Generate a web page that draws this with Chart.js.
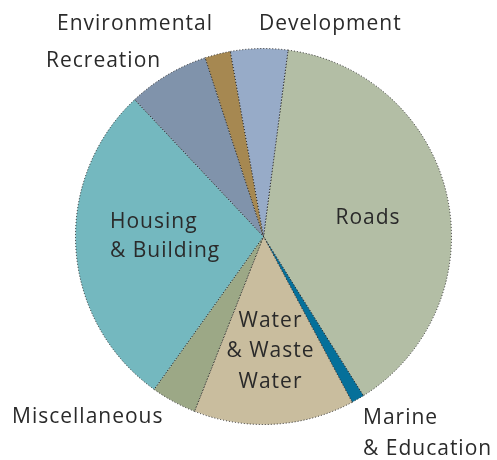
<!DOCTYPE html>
<html>
<head>
<meta charset="utf-8">
<script src="https://cdn.jsdelivr.net/npm/chart.js@4"></script>
<style>
  html, body { margin: 0; padding: 0; background: #ffffff; }
  #wrap { width: 497px; height: 460px; position: relative; }
</style>
</head>
<body>
<div id="wrap"><canvas id="c" width="497" height="460"></canvas></div>
<script>
// ---- data ----
const categories = ["Roads", "Marine & Education", "Water & Waste Water", "Miscellaneous",
                    "Housing & Building", "Recreation", "Environmental", "Development"];
const shares = [39.0, 1.1, 13.8, 3.9, 28.1, 7.0, 2.2, 4.9];
const sliceColors = ["#b3bea5", "#05709a", "#c9bd9e", "#9ca886",
                     "#74b8bf", "#8093ab", "#a68851", "#97abc8"];

// label text lines (per category)
const labelLines = [
  ["Roads"],
  ["Marine", "& Education"],
  ["Water", "& Waste", "Water"],
  ["Miscellaneous"],
  ["Housing", "& Building"],
  ["Recreation"],
  ["Environmental"],
  ["Development"]
];

// label placement relative to pie center (style/layout, not data)
const labelPlacement = [
  { dx: 104,    dy: [-12.5],              align: "center" },
  { dx: 99.5,   dy: [187.5, 218.5],       align: "left" },
  { dx: 6.5,    dy: [90.5, 120.5, 151.5], align: "center" },
  { dx: -251.5, dy: [186.5],              align: "left" },
  { dx: -153.5, dy: [-8.5, 20.5],         align: "left" },
  { dx: -217.5, dy: [-169.5],             align: "left" },
  { dx: -206.5, dy: [-206.5],             align: "left" },
  { dx: -4.5,   dy: [-206.5],             align: "left" }
];

const labelPlugin = {
  id: "sliceLabels",
  afterDraw(chart) {
    const meta = chart.getDatasetMeta(0);
    const arc0 = meta.data[0];
    const cx = arc0.x, cy = arc0.y;
    const ctx = chart.ctx;
    ctx.save();
    ctx.fillStyle = "#2a2a2a";
    ctx.font = "21px 'Open Sans'";
    try { ctx.letterSpacing = "1px"; } catch (e) {}
    ctx.textBaseline = "alphabetic";
    labelLines.forEach((lines, i) => {
      const p = labelPlacement[i];
      ctx.textAlign = p.align;
      lines.forEach((t, j) => {
        const off = p.align === "center" ? 0.5 : 0;
        ctx.fillText(t, cx + p.dx + off, cy + p.dy[j]);
      });
    });
    ctx.restore();
  }
};

new Chart(document.getElementById("c"), {
  type: "pie",
  data: {
    labels: categories,
    datasets: [{
      data: shares,
      backgroundColor: sliceColors,
      borderColor: "#262626",
      borderWidth: 1,
      borderDash: [1, 2],
      hoverOffset: 0
    }]
  },
  options: {
    responsive: false,
    animation: false,
    rotation: 7.5,
    layout: { padding: { top: 48, bottom: 35, left: 75, right: 45 } },
    plugins: {
      legend: { display: false },
      tooltip: { enabled: false }
    }
  },
  plugins: [labelPlugin]
});
</script>
</body>
</html>
